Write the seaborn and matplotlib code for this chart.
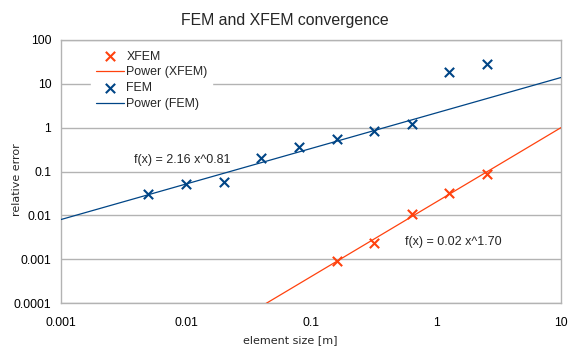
import numpy as np
import pandas as pd
import matplotlib
matplotlib.use("Agg")
import matplotlib.pyplot as plt
import seaborn as sns
from matplotlib.ticker import FuncFormatter, NullLocator

# ---- data ----
fem_size = [0.005, 0.01, 0.02, 0.04, 0.08, 0.16, 0.32, 0.64, 1.28, 2.56]
fem_error = [0.030, 0.053, 0.058, 0.20, 0.37, 0.56, 0.83, 1.23, 19.0, 29.0]
xfem_size = [0.16, 0.32, 0.64, 1.28, 2.56]
xfem_error = [0.00093, 0.0023, 0.0107, 0.033, 0.089]
fem_fit = (2.16, 0.81)    # a, b in f(x) = a x^b
xfem_fit = (0.02, 1.70)
x_ticks = [0.001, 0.01, 0.1, 1, 10]
y_ticks = [0.0001, 0.001, 0.01, 0.1, 1, 10, 100]

RED = "#ff420e"
BLUE = "#004586"
GRID = "#b3b3b3"

sns.set_theme(style="white")
plt.rcParams["font.family"] = ["Liberation Sans", "DejaVu Sans"]

fig = plt.figure(figsize=(5.70, 3.47), dpi=100)
ax = fig.add_axes([61 / 570, 1 - 303 / 347, 500 / 570, 263 / 347])

ax.set_xscale("log")
ax.set_yscale("log")
ax.set_xlim(x_ticks[0], x_ticks[-1])
ax.set_ylim(y_ticks[0], y_ticks[-1])

xs = np.geomspace(x_ticks[0], x_ticks[-1], 200)
trend = pd.DataFrame({
    "x": xs,
    "fem": fem_fit[0] * xs ** fem_fit[1],
    "xfem": xfem_fit[0] * xs ** xfem_fit[1],
})
xfem_df = pd.DataFrame({"x": xfem_size, "y": xfem_error})
fem_df = pd.DataFrame({"x": fem_size, "y": fem_error})

sns.scatterplot(data=xfem_df, x="x", y="y", ax=ax, marker="x", s=45,
                color=RED, linewidth=1.5, label="XFEM", zorder=4)
sns.lineplot(data=trend, x="x", y="xfem", ax=ax, color=RED, linewidth=0.9,
             label="Power (XFEM)", zorder=3)
sns.scatterplot(data=fem_df, x="x", y="y", ax=ax, marker="x", s=45,
                color=BLUE, linewidth=1.5, label="FEM", zorder=4)
sns.lineplot(data=trend, x="x", y="fem", ax=ax, color=BLUE, linewidth=0.9,
             label="Power (FEM)", zorder=3)

ax.set_xticks(x_ticks)
ax.set_yticks(y_ticks)
ax.xaxis.set_minor_locator(NullLocator())
ax.yaxis.set_minor_locator(NullLocator())
fmt = FuncFormatter(lambda v, p: f"{v:g}" if v >= 0.001 else f"{v:.4f}")
ax.xaxis.set_major_formatter(fmt)
ax.yaxis.set_major_formatter(fmt)
ax.tick_params(axis="both", which="major", labelsize=8.7, labelcolor="#000000",
               color=GRID, length=4, width=1, direction="out")
ax.tick_params(axis="x", pad=6)
ax.tick_params(axis="y", pad=3)
ax.yaxis.grid(True, color=GRID, linewidth=1)
ax.xaxis.grid(False)
for s in ax.spines.values():
    s.set_color(GRID)
    s.set_linewidth(1)

ax.set_xlabel("element size [m]", fontsize=8, family="DejaVu Sans")
ax.set_ylabel("relative error", fontsize=8, family="DejaVu Sans")
ax.xaxis.set_label_coords(0.459, -0.122)
ax.yaxis.set_label_coords(-0.078, 0.471)
fig.suptitle("FEM and XFEM convergence", fontsize=11.4, y=0.962)

leg = ax.legend(loc="upper left", bbox_to_anchor=(0.06, 0.978), frameon=True,
                fontsize=8.9, handlelength=2.3, handletextpad=0.15,
                labelspacing=0.3, borderpad=0.4, borderaxespad=0)
leg.get_frame().set_facecolor("white")
leg.get_frame().set_edgecolor("white")
leg.get_frame().set_alpha(1)

ax.text(0.00384, 0.186, f"f(x) = {fem_fit[0]:.2f} x^{fem_fit[1]:.2f}",
        fontsize=9, va="center", ha="left")
ax.text(0.565, 0.00246, f"f(x) = {xfem_fit[0]:.2f} x^{xfem_fit[1]:.2f}",
        fontsize=9, va="center", ha="left")

fig.savefig("out.png", dpi=100)
